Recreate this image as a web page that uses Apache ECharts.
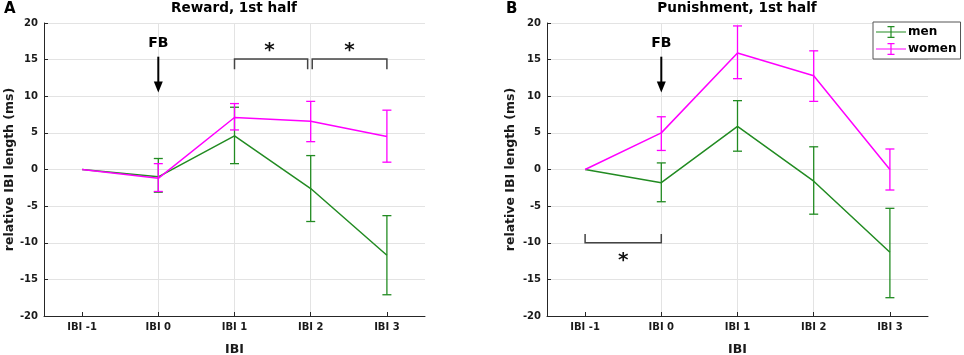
<!DOCTYPE html>
<html>
<head>
<meta charset="utf-8">
<script src="https://cdn.jsdelivr.net/npm/echarts@6/dist/echarts.min.js"></script>
<style>
html, body { margin: 0; padding: 0; background: #fff; }
#chart { width: 964px; height: 355px; }
</style>
</head>
<body>
<div id="chart"></div>
<script>
// x positions and their tick labels
var categories = ['IBI -1', 'IBI 0', 'IBI 1', 'IBI 2', 'IBI 3'];
var ibiIndex = [-1, 0, 1, 2, 3];

// A: reward, 1st half
var rewardMen = [0, -1.0, 4.6, -2.6, -11.7];
var rewardMenLow = [null, -3.1, 0.8, -7.1, -17.1];
var rewardMenHigh = [null, 1.5, 8.5, 1.9, -6.3];
var rewardWomen = [0, -1.2, 7.1, 6.6, 4.5];
var rewardWomenLow = [null, -3.0, 5.4, 3.8, 1.0];
var rewardWomenHigh = [null, 0.8, 9.0, 9.3, 8.1];

// B: punishment, 1st half
var punishMen = [0, -1.8, 5.9, -1.6, -11.3];
var punishMenLow = [null, -4.4, 2.5, -6.1, -17.5];
var punishMenHigh = [null, 0.9, 9.4, 3.1, -5.3];
var punishWomen = [0, 5.0, 15.9, 12.8, 0];
var punishWomenLow = [null, 2.6, 12.4, 9.3, -2.8];
var punishWomenHigh = [null, 7.2, 19.6, 16.2, 2.8];

// annotations (data coords): FB = [x, label y, arrow start, arrow end]
var rewardFB = [[0, 17.2, 15.4, 10.5]];
var punishFB = [[0, 17.2, 15.4, 10.5]];
// brackets = [x1, x2, bar y, tip y]
var rewardBrackets = [[1, 1.96, 15.1, 13.7], [2.02, 3, 15.1, 13.7]];
var punishBrackets = [[-1, 0, -10.0, -8.8]];
// stars = [x, y]
var rewardStars = [[1.46, 16.2], [2.51, 16.2]];
var punishStars = [[-0.5, -12.5]];

var green = '#228b22';
var magenta = '#ff00ff';
var font = '"DejaVu Sans", sans-serif';

function pairs(ys) {
    return ys.map(function (y, i) { return [ibiIndex[i], y]; });
}
function errData(lo, hi) {
    var out = [];
    for (var i = 0; i < lo.length; i++) {
        if (lo[i] != null) out.push([ibiIndex[i], lo[i], hi[i]]);
    }
    return out;
}

function errRender(params, api) {
    var x = api.value(0);
    var a = api.coord([x, api.value(2)]);
    var b = api.coord([x, api.value(1)]);
    var c = api.visual('color');
    var w = 4.5;
    var st = { stroke: c, lineWidth: 1.3 };
    return {
        type: 'group',
        children: [
            { type: 'line', shape: { x1: a[0], y1: a[1], x2: b[0], y2: b[1] }, style: st },
            { type: 'line', shape: { x1: a[0] - w, y1: a[1], x2: a[0] + w, y2: a[1] }, style: st },
            { type: 'line', shape: { x1: b[0] - w, y1: b[1], x2: b[0] + w, y2: b[1] }, style: st }
        ]
    };
}

function fbRender(params, api) {
    var x = api.value(0);
    var t = api.coord([x, api.value(1)]);
    var a = api.coord([x, api.value(2)]);
    var b = api.coord([x, api.value(3)]);
    return {
        type: 'group',
        children: [
            { type: 'text', style: { text: 'FB', x: t[0], y: t[1], align: 'center', verticalAlign: 'middle',
                font: 'bold 14px ' + font, fill: '#000' } },
            { type: 'line', shape: { x1: a[0], y1: a[1], x2: b[0], y2: b[1] - 8 }, style: { stroke: '#000', lineWidth: 2 } },
            { type: 'polygon', shape: { points: [[b[0] - 4.5, b[1] - 11], [b[0] + 4.5, b[1] - 11], [b[0], b[1]]] },
                style: { fill: '#000' } }
        ]
    };
}

function bracketRender(params, api) {
    var p1 = api.coord([api.value(0), api.value(3)]);
    var p2 = api.coord([api.value(0), api.value(2)]);
    var p3 = api.coord([api.value(1), api.value(2)]);
    var p4 = api.coord([api.value(1), api.value(3)]);
    return {
        type: 'polyline',
        shape: { points: [p1, p2, p3, p4] },
        style: { stroke: '#444', lineWidth: 1.5, fill: null }
    };
}

function starRender(params, api) {
    var p = api.coord([api.value(0), api.value(1)]);
    return {
        type: 'text',
        style: { text: '*', x: p[0], y: p[1], align: 'center', verticalAlign: 'middle',
            font: 'bold 20px ' + font, fill: '#111' }
    };
}

function xAxis(idx) {
    return {
        type: 'value', gridIndex: idx, min: -1.5, max: 3.5, minInterval: 1, maxInterval: 1,
        name: 'IBI', nameLocation: 'middle', nameGap: 27,
        nameTextStyle: { fontFamily: font, fontWeight: 'bold', fontSize: 12.5, color: '#1a1a1a' },
        axisLine: { onZero: false, lineStyle: { color: '#262626', width: 1 } },
        axisTick: { inside: true, length: 4, customValues: ibiIndex, lineStyle: { color: '#262626' } },
        axisLabel: {
            customValues: ibiIndex, margin: 6, fontFamily: font, fontWeight: 'bold', fontSize: 10, color: '#1a1a1a',
            formatter: function (v) {
                var i = ibiIndex.indexOf(v);
                return i < 0 ? '' : categories[i];
            }
        },
        splitLine: { show: true, showMinLine: false, showMaxLine: false, lineStyle: { color: '#e3e3e3', width: 1 } }
    };
}

function yAxis(idx, gap) {
    return {
        type: 'value', gridIndex: idx, min: -20, max: 20, interval: 5,
        name: 'relative IBI length (ms)', nameLocation: 'middle', nameGap: gap,
        nameTextStyle: { fontFamily: font, fontWeight: 'bold', fontSize: 12.5, color: '#1a1a1a' },
        axisLine: { show: true, onZero: false, lineStyle: { color: '#262626', width: 1 } },
        axisTick: { show: true, inside: true, length: 4, lineStyle: { color: '#262626' } },
        axisLabel: { margin: 6, fontFamily: font, fontWeight: 'bold', fontSize: 10, color: '#1a1a1a' },
        splitLine: { show: true, showMaxLine: true, showMinLine: false, lineStyle: { color: '#e3e3e3', width: 1 } }
    };
}

function panelSeries(idx, men, menLo, menHi, women, womenLo, womenHi, fb, brackets, stars) {
    return [
        { name: 'men', type: 'line', xAxisIndex: idx, yAxisIndex: idx, data: pairs(men), symbol: 'none',
            color: green, lineStyle: { width: 1.5, color: green }, z: 3 },
        { name: 'men err', type: 'custom', xAxisIndex: idx, yAxisIndex: idx, data: errData(menLo, menHi),
            renderItem: errRender, itemStyle: { color: green }, z: 3 },
        { name: 'women', type: 'line', xAxisIndex: idx, yAxisIndex: idx, data: pairs(women), symbol: 'none',
            color: magenta, lineStyle: { width: 1.5, color: magenta }, z: 4 },
        { name: 'women err', type: 'custom', xAxisIndex: idx, yAxisIndex: idx, data: errData(womenLo, womenHi),
            renderItem: errRender, itemStyle: { color: magenta }, z: 4 },
        { name: 'fb', type: 'custom', xAxisIndex: idx, yAxisIndex: idx, data: fb, renderItem: fbRender, silent: true, z: 5 },
        { name: 'brackets', type: 'custom', xAxisIndex: idx, yAxisIndex: idx, data: brackets, renderItem: bracketRender, silent: true, z: 5 },
        { name: 'stars', type: 'custom', xAxisIndex: idx, yAxisIndex: idx, data: stars, renderItem: starRender, silent: true, z: 5 }
    ];
}

var dom = document.getElementById('chart');
var myChart = echarts.init(dom);

var titleStyle = { fontFamily: font, fontWeight: 'bold', fontSize: 13.6, color: '#000' };
var letterStyle = { fontFamily: font, fontWeight: 'bold', fontSize: 15, color: '#000' };

var option = {
    animation: false,
    backgroundColor: '#fff',
    title: [
        { text: 'Reward, 1st half', left: 234, top: 1, padding: 0, textAlign: 'center', textStyle: titleStyle },
        { text: 'Punishment, 1st half', left: 737, top: 1, padding: 0, textAlign: 'center', textStyle: titleStyle },
        { text: 'A', left: 4, top: 2, padding: 0, textStyle: letterStyle },
        { text: 'B', left: 506, top: 2, padding: 0, textStyle: letterStyle }
    ],
    legend: {
        data: ['men', 'women'],
        orient: 'vertical',
        left: 873, top: 22,
        padding: [4, 4, 4, 3],
        itemGap: 5,
        itemWidth: 30, itemHeight: 12,
        icon: 'path://M0,5.4h30v1.2h-30z M14.4,0h1.2v12h-1.2z M11.5,0h7v1.2h-7z M11.5,10.8h7v1.2h-7z',
        itemStyle: { borderWidth: 0 },
        backgroundColor: '#fff',
        borderColor: '#555', borderWidth: 1, borderRadius: 0,
        textStyle: { fontFamily: font, fontWeight: 'bold', fontSize: 12, color: '#000', padding: [0, 0, 0, -3] }
    },
    grid: [
        { left: 44, top: 23, width: 381, height: 293, outerBoundsMode: 'none' },
        { left: 547, top: 23, width: 381, height: 293, outerBoundsMode: 'none' }
    ],
    xAxis: [xAxis(0), xAxis(1)],
    yAxis: [yAxis(0, 28), yAxis(1, 30)],
    series: panelSeries(0, rewardMen, rewardMenLow, rewardMenHigh, rewardWomen, rewardWomenLow, rewardWomenHigh,
            rewardFB, rewardBrackets, rewardStars)
        .concat(panelSeries(1, punishMen, punishMenLow, punishMenHigh, punishWomen, punishWomenLow, punishWomenHigh,
            punishFB, punishBrackets, punishStars))
};

if (option && typeof option === 'object') {
    myChart.setOption(option, true);
}
</script>
</body>
</html>
